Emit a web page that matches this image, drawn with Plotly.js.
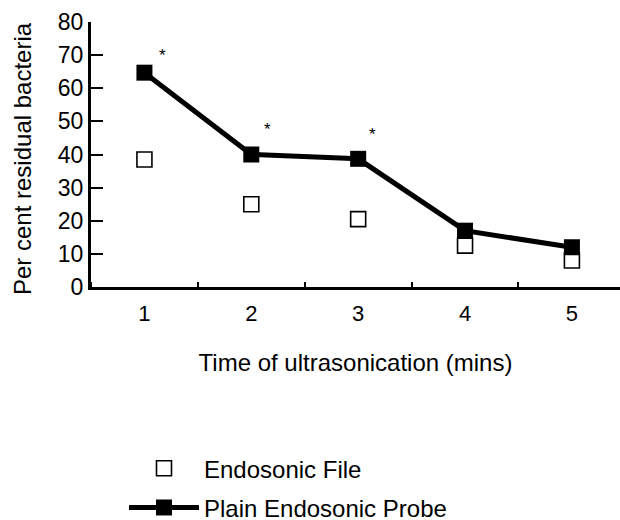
<!DOCTYPE html>
<html>
<head>
<meta charset="utf-8">
<script src="https://cdn.plot.ly/plotly-3.0.1.min.js"></script>
<style>html,body{margin:0;padding:0;background:#fff;}#chart{width:620px;height:520px;}</style>
</head>
<body>
<div id="chart"></div>
<script>
const minutes = [1, 2, 3, 4, 5];
const endosonicFile = [38.5, 25, 20.5, 12.5, 8];
const plainProbe = [64.7, 40, 38.7, 17, 12];
const starX = [1.17, 2.15, 3.13];
const starY = [70, 47.5, 46];
const yTicks = [0, 10, 20, 30, 40, 50, 60, 70, 80];
const yTitle = 'Per cent residual bacteria';
const xTitle = 'Time of ultrasonication (mins)';

const FONT = 'Liberation Sans, Arial, Helvetica, sans-serif';

const traces = [
  {
    x: minutes, y: endosonicFile, name: 'Endosonic File',
    type: 'scatter', mode: 'markers', legendgroup: 'a',
    marker: {symbol: 'square-open', size: 15, color: '#000', line: {width: 1.6, color: '#000'}},
    cliponaxis: false
  },
  {
    x: minutes, y: plainProbe, name: 'Plain Endosonic Probe',
    type: 'scatter', mode: 'lines+markers', legendgroup: 'b',
    line: {color: '#000', width: 5},
    marker: {symbol: 'square', size: 16, color: '#000'},
    cliponaxis: false
  }
];

const annotations = starX.map((x, i) => ({
  x: x, y: starY[i], xref: 'x', yref: 'y', text: '*', showarrow: false,
  font: {family: FONT, size: 17, color: '#000'}, yanchor: 'middle', xanchor: 'center'
}));
annotations.push({
  xref: 'paper', yref: 'paper', x: -0.1304, y: 0.483, text: yTitle, textangle: -90,
  showarrow: false, xanchor: 'center', yanchor: 'middle',
  font: {family: FONT, size: 24, color: '#000'}
});

const layout = {
  width: 620, height: 520,
  margin: {l: 91, r: 0, t: 22, b: 233, autoexpand: false},
  paper_bgcolor: '#fff', plot_bgcolor: '#fff',
  font: {family: FONT, color: '#000'},
  showlegend: true,
  legend: {
    xref: 'container', yref: 'container', x: 0.2, y: 0.142, xanchor: 'left', yanchor: 'top',
    font: {family: FONT, size: 24, color: '#000'},
    traceorder: 'grouped', tracegroupgap: 5, itemwidth: 70,
    bgcolor: 'rgba(0,0,0,0)'
  },
  xaxis: {
    range: [0.5, 5.45], showgrid: false, zeroline: false, automargin: false,
    showline: true, linecolor: '#000', linewidth: 3,
    tickmode: 'array', tickvals: minutes, ticktext: minutes.map(String),
    ticks: '', ticklabelstandoff: 5,
    tickfont: {family: FONT, size: 22, color: '#000'},
    minor: {tickmode: 'linear', tick0: 0.5, dtick: 1, ticks: 'inside', ticklen: 5, tickwidth: 2, tickcolor: '#000', showgrid: false},
    title: {text: xTitle, font: {family: FONT, size: 24, color: '#000'}}
  },
  yaxis: {
    range: [0, 80], showgrid: false, zeroline: false, automargin: false,
    showline: true, linecolor: '#000', linewidth: 3,
    tickmode: 'array', tickvals: yTicks,
    ticks: 'inside', ticklen: 12, tickwidth: 2, tickcolor: '#000',
    ticklabelstandoff: 0,
    tickfont: {family: FONT, size: 23, color: '#000'}
  },
  annotations: annotations
};

Plotly.newPlot('chart', traces, layout, {displayModeBar: false, staticPlot: true});
</script>
</body>
</html>
